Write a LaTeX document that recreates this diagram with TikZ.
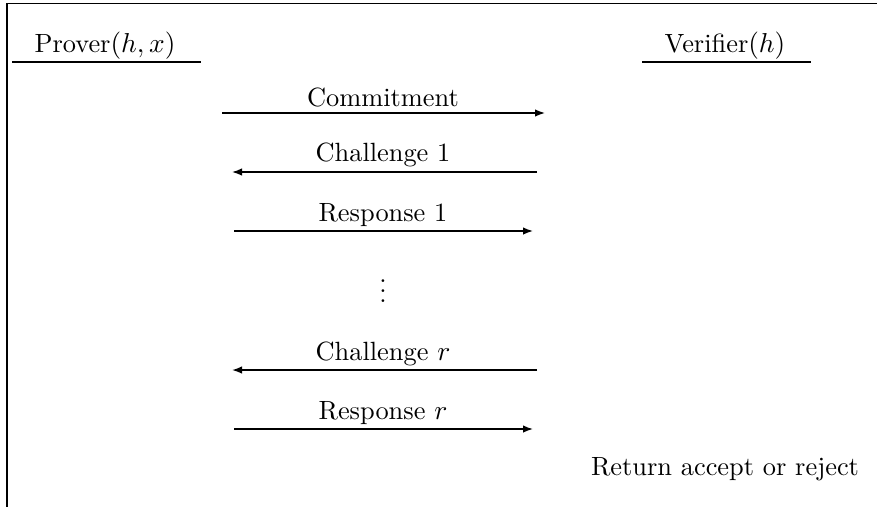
\documentclass[tikz,border=0pt]{standalone}
\usetikzlibrary{arrows.meta}
\begin{document}
\begin{tikzpicture}[x=0.4pt,y=-0.4pt,
  lbl/.style={inner sep=0pt,anchor=center,font=\fontsize{10.55}{12.7}\selectfont},
  msg/.style={line width=0.6pt,-{Latex[length=4pt,width=3pt]}},
  rule/.style={line width=0.6pt},
  frame/.style={line width=0.6pt}]
\useasboundingbox (0,0) rectangle (877,507);
% partial frame
\coordinate (fTL) at (7,3.5);
\coordinate (fTR) at (877,3.5);
\coordinate (fBL) at (7,507);
\draw[frame] (fTR) -- (fTL) -- (fBL);
% headers
\node[lbl] (prover) at (105,46) {Prover$(h,x)$};
\coordinate (pL) at (12,62); \coordinate (pR) at (201,62);
\draw[rule] (pL) -- (pR);
\node[lbl] (verifier) at (725,46) {Verifier$(h)$};
\coordinate (vL) at (642,62); \coordinate (vR) at (811,62);
\draw[rule] (vL) -- (vR);
% messages
\node[lbl] (t1) at (383,97) {Commitment};
\coordinate (a1) at (222,113); \coordinate (b1) at (545,113);
\draw[msg] (a1) -- (b1);
\node[lbl] (t2) at (383,155) {Challenge 1};
\coordinate (a2) at (537,172); \coordinate (b2) at (232,172);
\draw[msg] (a2) -- (b2);
\node[lbl] (t3) at (383,215) {Response 1};
\coordinate (a3) at (234,231); \coordinate (b3) at (533,231);
\draw[msg] (a3) -- (b3);
\node[lbl,anchor=center] (dots) at (383,284) {$\vdots$};
\node[lbl] (t4) at (383,354) {Challenge $r$};
\coordinate (a4) at (537,370); \coordinate (b4) at (232,370);
\draw[msg] (a4) -- (b4);
\node[lbl] (t5) at (383,413) {Response $r$};
\coordinate (a5) at (234,429); \coordinate (b5) at (533,429);
\draw[msg] (a5) -- (b5);
\node[lbl] (ret) at (725,469) {Return accept or reject};
\end{tikzpicture}
\end{document}
